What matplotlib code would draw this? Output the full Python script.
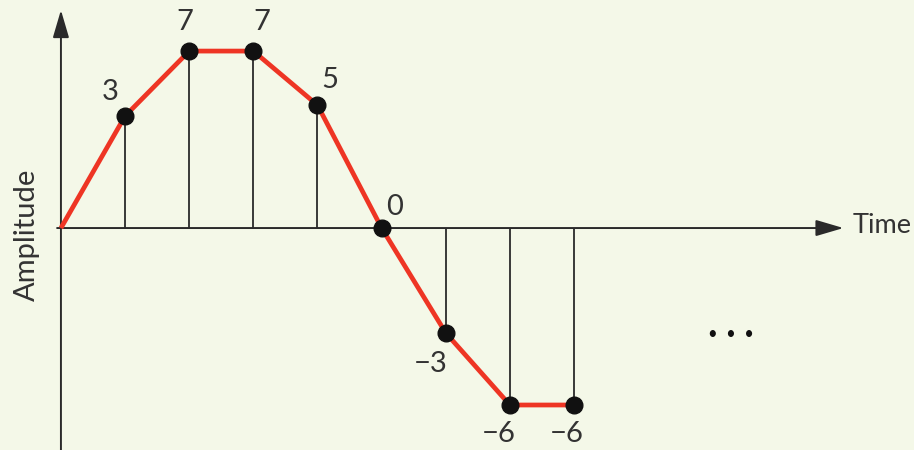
import matplotlib
matplotlib.use("Agg")
import matplotlib.pyplot as plt

# Sample times and plotted amplitudes (heights)
times = [1, 2, 3, 4, 5, 6, 7, 8]
amplitude = [4.43, 7.0, 7.0, 4.86, 0.0, -4.15, -7.0, -7.0]
# Quantized values printed next to each sample
labels = ["3", "7", "7", "5", "0", "\u22123", "\u22126", "\u22126"]
label_offsets = [(-11, 17), (-3, 21), (6, 21), (9, 18), (9, 15), (-11, -22), (-8, -21), (-5, -21)]

BG = "#F4F8E8"
INK = "#2a2a2a"
RED = "#EE3524"

plt.rcParams["font.family"] = ["Lato", "DejaVu Sans"]

fig = plt.figure(figsize=(9.14, 4.5), dpi=100, facecolor=BG)
ax = fig.add_axes([0, 0, 1, 1])
ax.set_facecolor(BG)
ax.set_xlim(-0.95, 13.3)
ax.set_ylim(-8.78, 9.02)
ax.axis("off")

# axes with arrows
ax.annotate("", xy=(12.2, 0), xytext=(-0.06, 0),
            arrowprops=dict(arrowstyle="-|>,head_length=1.7,head_width=0.5",
                            color=INK, lw=1.4, shrinkA=0, shrinkB=0))
ax.annotate("", xy=(0, 8.62), xytext=(0, -8.9),
            arrowprops=dict(arrowstyle="-|>,head_length=1.7,head_width=0.5",
                            color=INK, lw=1.4, shrinkA=0, shrinkB=0))

# stems
ax.vlines(times, 0, amplitude, color=INK, lw=1.3, zorder=2)

# signal line through origin and samples
ax.plot([0] + times, [0] + amplitude, color=RED, lw=3.4, zorder=3, solid_capstyle="butt")
ax.plot(times, amplitude, "o", color="#111111", ms=12, zorder=4)

for t, a, lab, off in zip(times, amplitude, labels, label_offsets):
    ax.annotate(lab, (t, a), xytext=off, textcoords="offset points",
                ha="center", va="center", fontsize=21, color="#333333")

ax.text(12.34, 0.1, "Time", ha="left", va="center", fontsize=19.5, color="#333333")
ax.text(-0.53, -0.25, "Amplitude", rotation=90, ha="center", va="center",
        fontsize=21, color="#333333")
ax.text(10.45, -4.2, "\u2022  \u2022  \u2022", ha="center", va="center",
        fontsize=12, color="#111111")

fig.savefig("out.png", dpi=100, facecolor=BG)
